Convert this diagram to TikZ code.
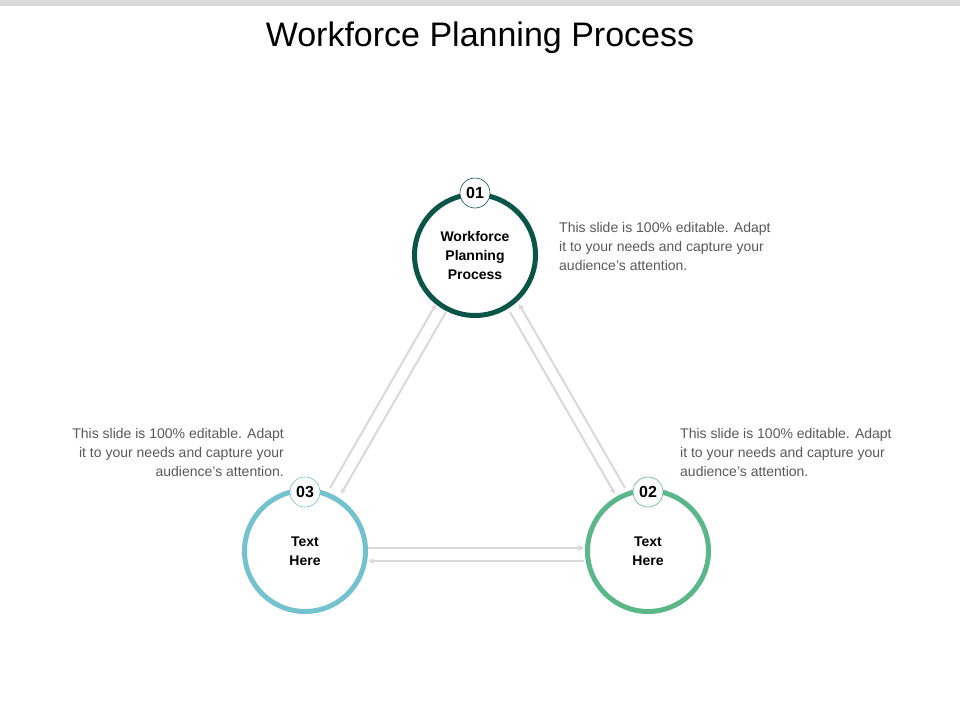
\documentclass[tikz,border=0pt]{standalone}
\usepackage{fontspec}
\setmainfont{Liberation Sans}
\usetikzlibrary{arrows.meta}
\definecolor{cA}{HTML}{0B5448}
\definecolor{cB}{HTML}{5BB78A}
\definecolor{cC}{HTML}{73C2CE}
\definecolor{gl}{HTML}{D9D9D9}
\definecolor{tg}{HTML}{595959}
\begin{document}
\begin{tikzpicture}[x=1pt,y=-1pt,
  ring/.style={circle,minimum size=121pt,line width=5pt,fill=white,align=center,font=\bfseries\fontsize{14}{19}\selectfont,inner sep=0pt},
  badge/.style={circle,minimum size=30pt,draw,line width=0.6pt,fill=white,font=\bfseries\fontsize{16}{18}\selectfont,inner sep=0pt},
  conn/.style={draw=gl,line width=2pt,-{Stealth[length=6pt,width=6pt]}},
  desc/.style={font=\fontsize{14}{19}\selectfont,text=tg,inner sep=0pt}]
\useasboundingbox (0,0) rectangle (960,720);
\fill[gl] (0,0) rectangle (960,6);
\node[font=\fontsize{34}{40}\selectfont] (title) at (480,38) {Workforce Planning Process};
\node[ring,draw=cA] (r1) at (475,255) {Workforce\\Planning\\Process};
\node[ring,draw=cB] (r2) at (648,551) {Text\\Here};
\node[ring,draw=cC] (r3) at (305,551) {Text\\Here};
\node[badge,draw=cA] (b1) at (475,193) {01};
\node[badge,draw=cB] (b2) at (648,492) {02};
\node[badge,draw=cC] (b3) at (305,492) {03};
\coordinate (l1a) at (330,488); \coordinate (l1b) at (436,304);
\coordinate (l2a) at (446,312); \coordinate (l2b) at (341,494);
\coordinate (g1a) at (510,312); \coordinate (g1b) at (615,494);
\coordinate (g2a) at (625,488); \coordinate (g2b) at (519,304);
\coordinate (h1a) at (368,548); \coordinate (h1b) at (584,548);
\coordinate (h2a) at (584,561); \coordinate (h2b) at (368,561);
\draw[conn] (l1a) -- (l1b);
\draw[conn] (l2a) -- (l2b);
\draw[conn] (g1a) -- (g1b);
\draw[conn] (g2a) -- (g2b);
\draw[conn] (h1a) -- (h1b);
\draw[conn] (h2a) -- (h2b);
\node[desc,anchor=north west,align=left] (d1) at (559,222) {This slide is 100\% editable. Adapt\\it to your needs and capture your\\audience's attention.};
\node[desc,anchor=north west,align=left] (d2) at (680,428) {This slide is 100\% editable. Adapt\\it to your needs and capture your\\audience's attention.};
\node[desc,anchor=north east,align=right] (d3) at (284,428) {This slide is 100\% editable. Adapt\\it to your needs and capture your\\audience's attention.};
\end{tikzpicture}
\end{document}
